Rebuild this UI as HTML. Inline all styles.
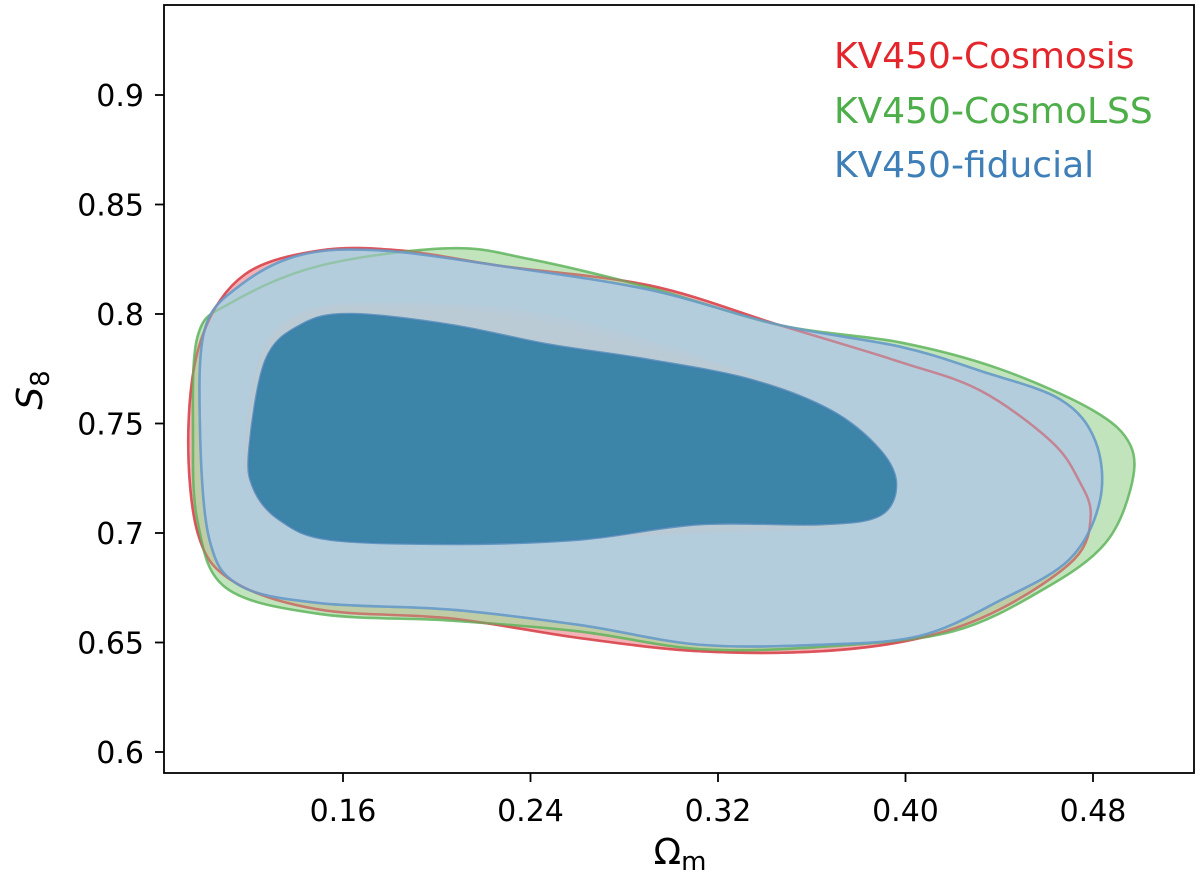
<!DOCTYPE html>
<html><head><meta charset="utf-8"><style>
body{margin:0;background:#fff;}
svg text{font-family:"DejaVu Sans","Liberation Sans",sans-serif;}
</style></head><body>
<svg id="c" width="1200" height="885"></svg>
<script>
const xTicks=[0.16,0.24,0.32,0.40,0.48];
const xTickLabels=["0.16","0.24","0.32","0.40","0.48"];
const yTicks=[0.6,0.65,0.7,0.75,0.8,0.85,0.9];
const yTickLabels=["0.6","0.65","0.7","0.75","0.8","0.85","0.9"];
// contours as [Omega_m, S8] pairs
const redOuter=[[0.094,0.747],[0.100,0.790],[0.118,0.818],[0.150,0.829],[0.185,0.829],[0.227,0.822],[0.291,0.813],[0.346,0.795],[0.398,0.778],[0.432,0.765],[0.462,0.742],[0.474,0.724],[0.479,0.708],[0.472,0.688],[0.440,0.665],[0.406,0.652],[0.364,0.646],[0.312,0.646],[0.261,0.652],[0.206,0.661],[0.150,0.665],[0.113,0.678],[0.098,0.700]];
const greenOuter=[[0.096,0.745],[0.098,0.790],[0.112,0.805],[0.150,0.822],[0.205,0.830],[0.240,0.825],[0.291,0.812],[0.346,0.795],[0.398,0.787],[0.440,0.775],[0.480,0.756],[0.496,0.740],[0.496,0.720],[0.485,0.695],[0.460,0.675],[0.420,0.655],[0.364,0.648],[0.312,0.647],[0.261,0.655],[0.206,0.660],[0.150,0.663],[0.110,0.675],[0.098,0.705]];
const blueOuter=[[0.099,0.747],[0.101,0.793],[0.116,0.813],[0.142,0.827],[0.176,0.829],[0.227,0.822],[0.291,0.811],[0.346,0.795],[0.398,0.785],[0.432,0.774],[0.466,0.761],[0.481,0.742],[0.483,0.715],[0.470,0.688],[0.440,0.669],[0.406,0.653],[0.364,0.649],[0.312,0.649],[0.261,0.658],[0.206,0.665],[0.150,0.668],[0.116,0.676],[0.103,0.697]];
const redInner=[[0.118,0.740],[0.125,0.782],[0.142,0.800],[0.175,0.804],[0.230,0.800],[0.291,0.785],[0.334,0.772],[0.368,0.756],[0.392,0.735],[0.393,0.715],[0.370,0.703],[0.312,0.700],[0.261,0.697],[0.206,0.695],[0.154,0.697],[0.130,0.707],[0.120,0.722]];
const greenInner=[[0.119,0.742],[0.126,0.783],[0.145,0.802],[0.180,0.805],[0.235,0.802],[0.291,0.788],[0.334,0.772],[0.368,0.756],[0.391,0.736],[0.392,0.716],[0.368,0.703],[0.312,0.701],[0.261,0.698],[0.206,0.696],[0.154,0.698],[0.131,0.708],[0.121,0.723]];
const blueInner=[[0.120,0.738],[0.127,0.779],[0.142,0.795],[0.163,0.800],[0.206,0.795],[0.248,0.786],[0.291,0.779],[0.334,0.770],[0.368,0.756],[0.389,0.738],[0.396,0.722],[0.389,0.708],[0.364,0.704],[0.312,0.704],[0.261,0.697],[0.206,0.695],[0.154,0.697],[0.133,0.706],[0.122,0.720]];

const X0=164,X1=1194,Y0=5,Y1=773;
const xs=v=>343+(v-0.16)*2343.75;
const ys=v=>95+(0.9-v)*2190;
const svg=document.getElementById('c');
const NS='http://www.w3.org/2000/svg';
function mk(t,a){const e=document.createElementNS(NS,t);for(const k in a)e.setAttribute(k,a[k]);svg.appendChild(e);return e;}
function pathFor(d){
  const p=d.map(q=>[xs(q[0]),ys(q[1])]);const n=p.length;let s=`M${p[0][0]},${p[0][1]}`;
  for(let i=0;i<n;i++){const p0=p[(i-1+n)%n],p1=p[i],p2=p[(i+1)%n],p3=p[(i+2)%n];
    s+=`C${p1[0]+(p2[0]-p0[0])/6},${p1[1]+(p2[1]-p0[1])/6} ${p2[0]-(p3[0]-p1[0])/6},${p2[1]-(p3[1]-p1[1])/6} ${p2[0]},${p2[1]}`;}
  return s+'Z';
}
function contour(d,fill,op,stroke,so,name){
  const e=mk('path',{d:pathFor(d),fill:fill,'fill-opacity':op,stroke:stroke,'stroke-width':2.5,'stroke-opacity':so});
  
  
}
contour(redOuter,'#f0a0a4',0.8,'#e4262c',0.7,'cosmosis-outer-contour');
contour(greenOuter,'#a8d8a0',0.7,'#4dae4a',0.7,'cosmolss-outer-contour');
contour(blueOuter,'#b3cddd',1,'#6a9cc8',0.7,'fiducial-outer-contour');
contour(redOuter,'none',0,'#d04a55',0.55,'cosmosis-outer-line');
contour(greenOuter,'none',0,'#6cb86a',0.45,'cosmolss-outer-line');
contour(blueOuter,'none',0,'#6a9cc8',0.8,'fiducial-outer-line');
contour(redInner,'#c0c8d0',0.5,'none',0,'cosmosis-inner-contour');
contour(greenInner,'#bccbd3',0.5,'none',0,'cosmolss-inner-contour');
contour(blueInner,'#3d84a9',1,'#3f7fb0',0.7,'fiducial-inner-contour');

const fr=mk('rect',{x:X0,y:Y0,width:X1-X0,height:Y1-Y0,fill:'none',stroke:'#000','stroke-width':1.8});

xTicks.forEach((v,i)=>{
  const l=mk('line',{x1:xs(v),x2:xs(v),y1:Y1,y2:Y1+9,stroke:'#000','stroke-width':1.8});
  
  const t=mk('text',{x:xs(v),y:Y1+48,'font-size':30,'text-anchor':'middle'});t.textContent=xTickLabels[i];
  
});
yTicks.forEach((v,i)=>{
  const l=mk('line',{x1:X0-9,x2:X0,y1:ys(v),y2:ys(v),stroke:'#000','stroke-width':1.8});
  
  const t=mk('text',{x:X0-20,y:ys(v)+11,'font-size':30,'text-anchor':'end'});t.textContent=yTickLabels[i];
  
});
const xt=mk('text',{x:680,y:864,'font-size':36,'text-anchor':'middle'});
xt.innerHTML='Ω<tspan font-size="26" dy="6">m</tspan>';

const yt=mk('text',{x:0,y:0,'font-size':36,'text-anchor':'middle','font-style':'italic',transform:'translate(42,390) rotate(-90)'});
yt.innerHTML='S<tspan font-size="26" font-style="normal" dy="7">8</tspan>';

const legend=[["KV450-Cosmosis","#e4262c",68],["KV450-CosmoLSS","#4dae4a",123],["KV450-fiducial","#3f7fb8",177]];
legend.forEach(l=>{const t=mk('text',{x:834,y:l[2],'font-size':36,'text-anchor':'start',fill:l[1]});t.textContent=l[0];
  });
</script>
</body></html>
